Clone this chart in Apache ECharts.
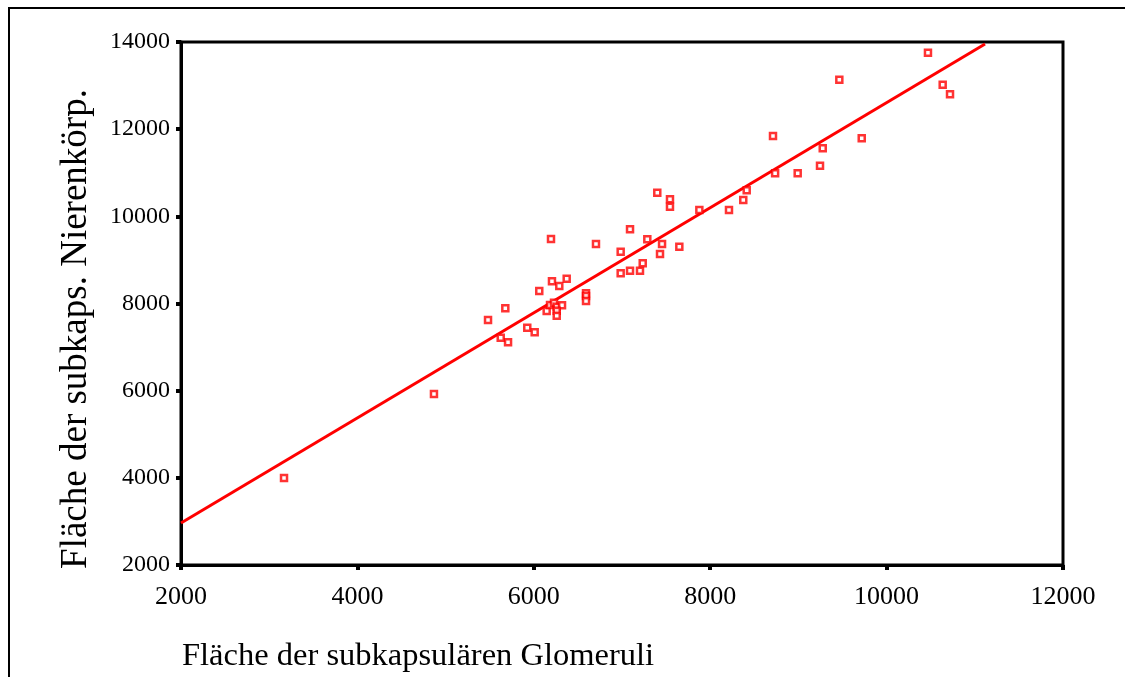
<!DOCTYPE html>
<html>
<head>
<meta charset="utf-8">
<script src="https://cdn.jsdelivr.net/npm/echarts@6/dist/echarts.min.js"></script>
<style>html,body{margin:0;padding:0;background:#fff;}#c{width:1125px;height:677px;}</style>
</head>
<body>
<div id="c"></div>
<script>
// Data
const xValues = [3168,4868,5481,5677,5625,5708,5926,6010,6062,6195,6206,6289,6373,6146,6184,6229,6260,6320,6260,6260,6592,6592,6592,6705,6985,6985,7091,7091,7204,7235,7287,7400,7431,7454,7544,7544,7650,7877,8213,8375,8414,8712,8736,8992,9245,9276,9464,9718,10469,10636,10719];
const yValues = [3996,5923,7621,7889,7215,7109,7444,7339,8286,9480,8509,8401,8569,7827,7965,8018,7926,7958,7834,7720,8234,8172,8057,9365,9188,8693,8752,9702,8752,8922,9473,10542,9135,9365,10391,10221,9303,10145,10145,10374,10597,11843,10987,10987,11162,11561,13135,11790,13754,13020,12800];
const fitLineX = [2000, 11116];
const fitLineY = [2963, 13954];
const xTicks = [2000,4000,6000,8000,10000,12000];
const yTicks = [2000,4000,6000,8000,10000,12000,14000];
const xTitle = 'Fläche der subkapsulären Glomeruli';
const yTitle = 'Fläche der subkaps. Nierenkörp.';

const points = xValues.map((x, i) => [x, yValues[i]]);
const line = fitLineX.map((x, i) => [x, fitLineY[i]]);
const font = '"Liberation Serif", "Times New Roman", serif';

const chart = echarts.init(document.getElementById('c'), null, {renderer: 'canvas'});
chart.setOption({
  animation: false,
  backgroundColor: '#fff',
  grid: {left: 181, right: 62, top: 42, bottom: 112, show: true, borderColor: '#000', borderWidth: 3, backgroundColor: 'transparent'},
  xAxis: {
    type: 'value', min: xTicks[0], max: xTicks[xTicks.length-1], interval: 2000,
    axisLine: {show: true, onZero: false, lineStyle: {color: '#000', width: 3}},
    axisTick: {show: true, length: 5, lineStyle: {color: '#000', width: 4}},
    axisLabel: {color: '#000', fontFamily: font, fontSize: 26, margin: 19, formatter: v => String(v)},
    splitLine: {show: false}
  },
  yAxis: {
    type: 'value', min: yTicks[0], max: yTicks[yTicks.length-1], interval: 2000,
    axisLine: {show: true, onZero: false, lineStyle: {color: '#000', width: 3}},
    axisTick: {show: true, length: 5, lineStyle: {color: '#000', width: 4}},
    axisLabel: {color: '#000', fontFamily: font, fontSize: 24, margin: 11, formatter: v => String(v)},
    splitLine: {show: false}
  },
  graphic: [
    {type: 'rect', shape: {x: 9, y: 8, width: 1200, height: 800}, style: {fill: 'none', stroke: '#000', lineWidth: 2}, z: -1},
    {type: 'text', left: 182, top: 640, style: {text: xTitle, font: '32.5px ' + font, fill: '#000'}},
    {type: 'text', x: 58, y: 329, rotation: Math.PI/2, style: {text: yTitle, font: '37px ' + font, fill: '#000', align: 'center', verticalAlign: 'top'}}
  ],
  series: [
    {type: 'line', data: line, showSymbol: false, symbol: 'none', lineStyle: {color: '#ff0000', width: 3}, z: 2},
    {type: 'scatter', data: points, symbol: 'rect', symbolSize: 6, itemStyle: {color: '#fff', borderColor: '#ff0000', borderWidth: 2.5}, z: 3}
  ]
});
</script>
</body>
</html>
